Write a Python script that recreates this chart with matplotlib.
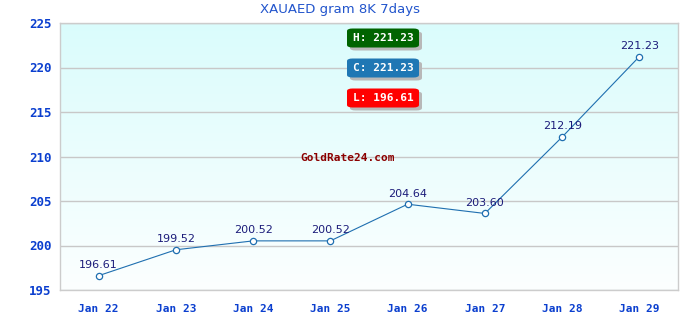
import numpy as np
import matplotlib
matplotlib.use('Agg')
import matplotlib.pyplot as plt
from matplotlib.patches import FancyBboxPatch

DATES = ['Jan 22', 'Jan 23', 'Jan 24', 'Jan 25', 'Jan 26', 'Jan 27', 'Jan 28', 'Jan 29']
PRICES = [196.61, 199.52, 200.52, 200.52, 204.64, 203.60, 212.19, 221.23]
Y_TICKS = [195, 200, 205, 210, 215, 220, 225]
TITLE = 'XAUAED gram 8K 7days'
BADGES = [
    ('H: 221.23', '#006400'),
    ('C: 221.23', '#1f77b4'),
    ('L: 196.61', '#ff0000'),
]
WATERMARK = 'GoldRate24.com'

TICK_BLUE = '#0b3fcf'
LINE_BLUE = '#1f6fb0'
LABEL_NAVY = '#1c1c7a'

fig = plt.figure(figsize=(6.8, 3.2), dpi=100)
ax = fig.add_axes([60 / 680, 30 / 320, 618 / 680, 267 / 320])

# vertical gradient background (light cyan -> near white)
grad = np.linspace(0, 1, 256).reshape(-1, 1)
top = np.array([218, 252, 252]) / 255
bot = np.array([252, 255, 255]) / 255
img = top[None, None, :] * (1 - grad[..., None]) + bot[None, None, :] * grad[..., None]
ax.imshow(img, extent=[0, 1, 0, 1], transform=ax.transAxes, aspect='auto', zorder=0)

x = np.arange(len(DATES))
ax.plot(x, PRICES, color=LINE_BLUE, lw=0.8, marker='o', ms=4.5,
        mfc='white', mec=LINE_BLUE, mew=0.9, zorder=3)
for xi, yi in zip(x, PRICES):
    ax.annotate(f'{yi:.2f}', (xi, yi), xytext=(0, 4), textcoords='offset points',
                ha='center', va='bottom', fontsize=8, color=LABEL_NAVY, zorder=4)

ax.set_xlim(-0.5, len(DATES) - 0.5)
ax.set_ylim(Y_TICKS[0], Y_TICKS[-1])
ax.set_yticks(Y_TICKS)
ax.set_xticks(x)
ax.set_xticklabels(DATES)
ax.grid(axis='y', color='#c8c8c8', lw=1, zorder=1)
ax.set_axisbelow(True)
ax.tick_params(axis='y', length=0, pad=6)
ax.tick_params(axis='x', length=0, pad=10)
for lab in ax.get_xticklabels() + ax.get_yticklabels():
    lab.set_fontfamily('DejaVu Sans Mono')
    lab.set_fontweight('bold')
    lab.set_fontsize(8)
    lab.set_color(TICK_BLUE)
for lab in ax.get_yticklabels():
    lab.set_fontsize(9)
for sp in ax.spines.values():
    sp.set_color('#cccccc')
    sp.set_linewidth(1)

fig.text(340 / 680, 1 - 10 / 320, TITLE, ha='center', va='center',
         fontsize=9.5, color='#2255cc')

# H/C/L badges
for i, (txt, col) in enumerate(BADGES):
    yc = 1 - (38 + 30 * i) / 320
    x0, w, h = 347 / 680, 72 / 680, 19 / 320
    shadow = FancyBboxPatch((x0 + 3 / 680, yc - h / 2 - 3 / 320), w, h,
                            boxstyle='round,pad=0,rounding_size=0.008',
                            transform=fig.transFigure, fc='#b8b8b8', ec='none', zorder=5)
    box = FancyBboxPatch((x0, yc - h / 2), w, h,
                         boxstyle='round,pad=0,rounding_size=0.008',
                         transform=fig.transFigure, fc=col, ec='none', zorder=6)
    fig.patches.extend([shadow, box])
    fig.text(x0 + w / 2, yc, txt, ha='center', va='center', color='white',
             fontsize=8, fontweight='bold', family='DejaVu Sans Mono', zorder=7)

fig.text(348 / 680, 1 - 158 / 320, WATERMARK, ha='center', va='center',
         color='#8b0000', fontsize=8, fontweight='bold', family='DejaVu Sans Mono')

fig.savefig('out.png', dpi=100)
